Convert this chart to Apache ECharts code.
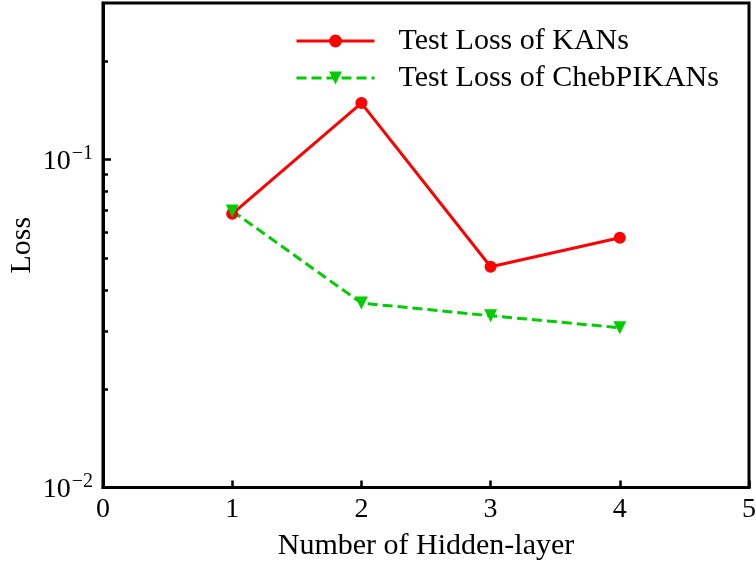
<!DOCTYPE html>
<html><head><meta charset="utf-8">
<script src="https://cdn.jsdelivr.net/npm/echarts@6/dist/echarts.min.js"></script>
<style>html,body{margin:0;padding:0;background:#fff}#c{width:756px;height:561px}</style>
</head><body><div id="c"></div>
<script>
const layers = [1, 2, 3, 4];
const kanLoss = [0.0683, 0.1486, 0.0471, 0.0577];
const chebLoss = [0.0697, 0.0365, 0.0334, 0.0307];
const xTicks = [0, 1, 2, 3, 4, 5];
const yMajor = [0.01, 0.1];
const yMinor = [0.02, 0.03, 0.04, 0.05, 0.06, 0.07, 0.08, 0.09, 0.2];
const seriesNames = ['Test Loss of KANs', 'Test Loss of ChebPIKANs'];

const font = '"Liberation Serif", "Times New Roman", serif';
const chart = echarts.init(document.getElementById('c'), null, {renderer: 'canvas'});
const supFmt = v => {
  const e = Math.round(Math.log10(v));
  return '{b|10}{s|' + (e < 0 ? '\u2212' + (-e) : e) + '}';
};
chart.setOption({
  animation: false,
  backgroundColor: '#fff',
  grid: {left: 103, top: 3, right: 7, bottom: 73.5, containLabel: false, outerBoundsMode: 'none',
    show: true, borderColor: '#000', borderWidth: 3, backgroundColor: 'transparent'},
  legend: {
    orient: 'vertical', left: 295, top: 26, padding: 0, itemWidth: 78, itemHeight: 16, itemGap: 7,
    textStyle: {fontFamily: font, fontSize: 30, color: '#000', padding: [0, 0, 0, 19]},
    lineStyle: {width: 3},
    data: seriesNames
  },
  xAxis: {
    type: 'value', min: 0, max: 5, interval: 1,
    name: 'Number of Hidden-layer', nameLocation: 'middle', nameGap: 44, nameMoveOverlap: false,
    nameTextStyle: {fontFamily: font, fontSize: 30, color: '#000'},
    axisLine: {lineStyle: {color: '#000', width: 3}},
    axisTick: {inside: true, length: 7, lineStyle: {color: '#000', width: 2.5}},
    axisLabel: {fontFamily: font, fontSize: 28, color: '#000', margin: 8, customValues: xTicks},
    splitLine: {show: false}
  },
  yAxis: [{
    type: 'log', logBase: 10, min: 0.01, max: 0.3,
    name: 'Loss', nameLocation: 'middle', nameGap: 66, nameMoveOverlap: false,
    nameTextStyle: {fontFamily: font, fontSize: 30, color: '#000'},
    axisLine: {lineStyle: {color: '#000', width: 3}},
    axisTick: {inside: true, length: 8, customValues: yMajor, lineStyle: {color: '#000', width: 2.5}},
    axisLabel: {
      customValues: yMajor, margin: 10, formatter: supFmt,
      rich: {
        b: {fontFamily: font, fontSize: 28, color: '#000', verticalAlign: 'bottom'},
        s: {fontFamily: font, fontSize: 20, color: '#000', verticalAlign: 'bottom', padding: [0, 0, 12, 1]}
      }
    },
    splitLine: {show: false}, minorSplitLine: {show: false}
  }, {
    type: 'log', logBase: 10, min: 0.01, max: 0.3, position: 'left', offset: 0,
    axisLine: {show: false},
    axisTick: {show: true, inside: true, length: 5, customValues: yMinor, lineStyle: {color: '#000', width: 2.5}},
    axisLabel: {show: false},
    splitLine: {show: false}
  }],
  series: [{
    name: seriesNames[0], type: 'line', yAxisIndex: 0,
    data: layers.map((x, i) => [x, kanLoss[i]]),
    symbol: 'circle', symbolSize: 12,
    lineStyle: {color: '#ff0000', width: 3},
    itemStyle: {color: '#ff0000'}
  }, {
    name: seriesNames[1], type: 'line', yAxisIndex: 0,
    data: layers.map((x, i) => [x, chebLoss[i]]),
    symbol: 'triangle', symbolSize: 13, symbolRotate: 180,
    lineStyle: {color: '#00cc00', width: 3, type: [10, 5]},
    itemStyle: {color: '#00cc00'}
  }]
});
</script></body></html>
